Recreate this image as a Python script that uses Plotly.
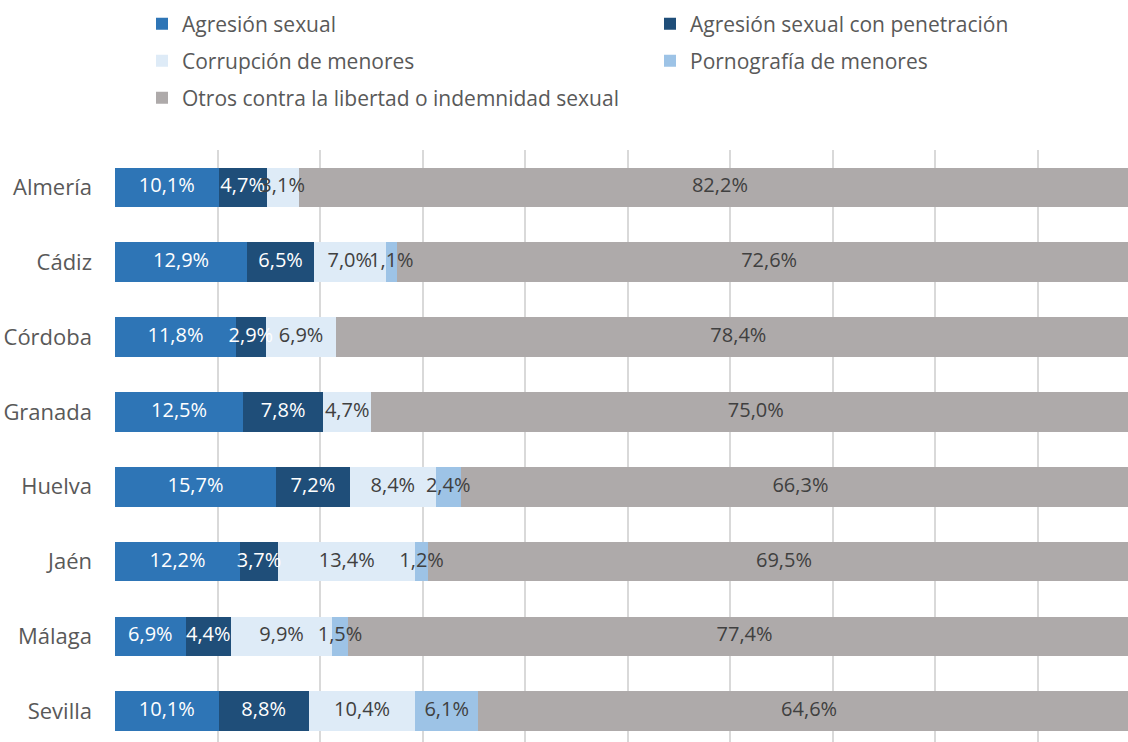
import plotly.graph_objects as go

# Datos
provincias = ["Almería", "Cádiz", "Córdoba", "Granada", "Huelva", "Jaén", "Málaga", "Sevilla"]
agresion = [10.1, 12.9, 11.8, 12.5, 15.7, 12.2, 6.9, 10.1]
penetracion = [4.7, 6.5, 2.9, 7.8, 7.2, 3.7, 4.4, 8.8]
corrupcion = [3.1, 7.0, 6.9, 4.7, 8.4, 13.4, 9.9, 10.4]
pornografia = [0.0, 1.1, 0.0, 0.0, 2.4, 1.2, 1.5, 6.1]
otros = [82.2, 72.6, 78.4, 75.0, 66.3, 69.5, 77.4, 64.6]

# nombre, valores, color, color del texto
series = [
    ("Agresión sexual", agresion, "#2E75B6", "white"),
    ("Agresión sexual con penetración", penetracion, "#1F4E79", "white"),
    ("Corrupción de menores", corrupcion, "#DEEBF7", "#404040"),
    ("Pornografía de menores", pornografia, "#9DC3E6", "#404040"),
    ("Otros contra la libertad o indemnidad sexual", otros, "#AEAAAA", "#404040"),
]

fuente = "Open Sans"
tam = 21

def etiqueta(v):
    return (f"{v:.1f}%").replace(".", ",") if v > 0 else ""

fig = go.Figure()
for i, (nombre, valores, color, color_texto) in enumerate(series):
    fig.add_trace(go.Bar(
        y=provincias, x=valores, name=nombre, orientation="h",
        marker=dict(color=color, line=dict(width=0)),
        width=0.53, legend="legend" if i == 0 else f"legend{i + 1}",
        hoverinfo="skip",
    ))

# etiquetas encima de todas las barras (centro de cada segmento)
base = [0.0] * len(provincias)
for nombre, valores, color, color_texto in series:
    centros = [b + v / 2 for b, v in zip(base, valores)]
    fig.add_trace(go.Scatter(
        x=centros, y=provincias, mode="text",
        text=[etiqueta(v) for v in valores],
        textposition="middle center",
        textfont=dict(size=20, color=color_texto, family=fuente),
        showlegend=False, hoverinfo="skip", cliponaxis=False,
    ))
    base = [b + v for b, v in zip(base, valores)]

# una leyenda por entrada, en dos columnas
def entrada(col, fila):
    return dict(
        orientation="h", xref="container", yref="container",
        x=[142, 650][col] / 1128, y=1 - [24, 61, 98][fila] / 742,
        xanchor="left", yanchor="middle",
        font=dict(size=tam, color="#595959", family=fuente),
        bgcolor="rgba(0,0,0,0)",
    )

fig.update_layout(
    barmode="stack",
    width=1128, height=742,
    margin=dict(l=115, r=0, t=150, b=0, autoexpand=False),
    paper_bgcolor="white", plot_bgcolor="white",
    font=dict(family=fuente, size=tam, color="#595959"),
    legend=entrada(0, 0), legend2=entrada(1, 0),
    legend3=entrada(0, 1), legend4=entrada(1, 1),
    legend5=entrada(0, 2),
    showlegend=True,
)
fig.update_xaxes(range=[0, 98.8], dtick=10, showgrid=True, gridcolor="#D9D9D9",
                 gridwidth=2, showticklabels=False, zeroline=False, showline=False)
fig.update_yaxes(categoryorder="array", categoryarray=provincias,
                 range=[7.41, -0.5], showgrid=False, ticks="",
                 ticklabelstandoff=22, tickfont=dict(size=22, color="#595959"))

fig.write_html("out.html", config={"displayModeBar": False},
               post_script="document.body.style.margin='0';")
